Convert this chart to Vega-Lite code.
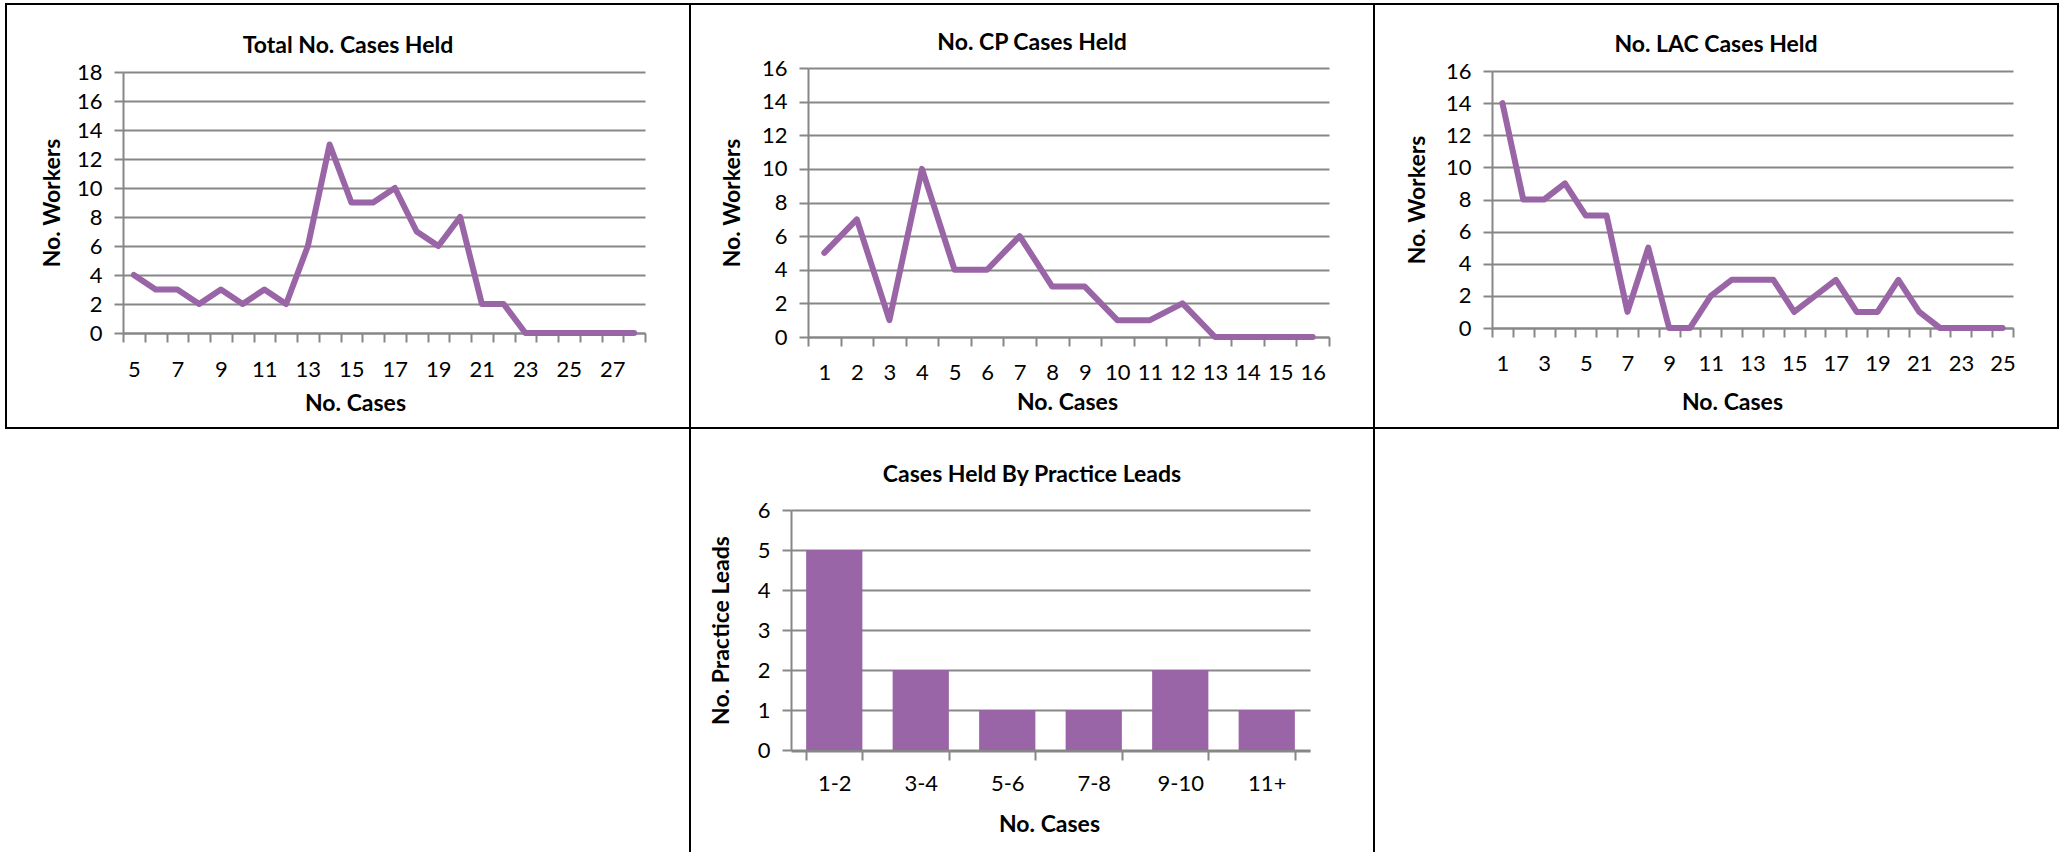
{
  "$schema": "https://vega.github.io/schema/vega-lite/v6.json",
  "padding": {"left": 5, "top": 3, "right": 0, "bottom": 0},
  "background": "white",
  "datasets": {
    "total": [
      {"cases": 5, "workers": 4}, {"cases": 6, "workers": 3}, {"cases": 7, "workers": 3}, {"cases": 8, "workers": 2},
      {"cases": 9, "workers": 3}, {"cases": 10, "workers": 2}, {"cases": 11, "workers": 3}, {"cases": 12, "workers": 2},
      {"cases": 13, "workers": 6}, {"cases": 14, "workers": 13}, {"cases": 15, "workers": 9}, {"cases": 16, "workers": 9},
      {"cases": 17, "workers": 10}, {"cases": 18, "workers": 7}, {"cases": 19, "workers": 6}, {"cases": 20, "workers": 8},
      {"cases": 21, "workers": 2}, {"cases": 22, "workers": 2}, {"cases": 23, "workers": 0}, {"cases": 24, "workers": 0},
      {"cases": 25, "workers": 0}, {"cases": 26, "workers": 0}, {"cases": 27, "workers": 0}, {"cases": 28, "workers": 0}
    ],
    "cp": [
      {"cases": 1, "workers": 5}, {"cases": 2, "workers": 7}, {"cases": 3, "workers": 1}, {"cases": 4, "workers": 10},
      {"cases": 5, "workers": 4}, {"cases": 6, "workers": 4}, {"cases": 7, "workers": 6}, {"cases": 8, "workers": 3},
      {"cases": 9, "workers": 3}, {"cases": 10, "workers": 1}, {"cases": 11, "workers": 1}, {"cases": 12, "workers": 2},
      {"cases": 13, "workers": 0}, {"cases": 14, "workers": 0}, {"cases": 15, "workers": 0}, {"cases": 16, "workers": 0}
    ],
    "lac": [
      {"cases": 1, "workers": 14}, {"cases": 2, "workers": 8}, {"cases": 3, "workers": 8}, {"cases": 4, "workers": 9},
      {"cases": 5, "workers": 7}, {"cases": 6, "workers": 7}, {"cases": 7, "workers": 1}, {"cases": 8, "workers": 5},
      {"cases": 9, "workers": 0}, {"cases": 10, "workers": 0}, {"cases": 11, "workers": 2}, {"cases": 12, "workers": 3},
      {"cases": 13, "workers": 3}, {"cases": 14, "workers": 3}, {"cases": 15, "workers": 1}, {"cases": 16, "workers": 2},
      {"cases": 17, "workers": 3}, {"cases": 18, "workers": 1}, {"cases": 19, "workers": 1}, {"cases": 20, "workers": 3},
      {"cases": 21, "workers": 1}, {"cases": 22, "workers": 0}, {"cases": 23, "workers": 0}, {"cases": 24, "workers": 0},
      {"cases": 25, "workers": 0}
    ],
    "leads": [
      {"range": "1-2", "leads": 5}, {"range": "3-4", "leads": 2}, {"range": "5-6", "leads": 1},
      {"range": "7-8", "leads": 1}, {"range": "9-10", "leads": 2}, {"range": "11+", "leads": 1}
    ]
  },
  "columns": 3,
  "spacing": 0,
  "bounds": "flush",
  "concat": [
    {
      "width": 684, "height": 424,
      "data": {"name": "total"},
      "title": {"text": "Total No. Cases Held", "offset": -54},
      "mark": {"type": "line", "color": "#9A65A6", "strokeWidth": 6, "strokeJoin": "round", "strokeCap": "round"},
      "encoding": {
        "x": {"field": "cases", "type": "ordinal", "bandPosition": 0.5,
          "scale": {"type": "band", "range": [117, 639], "paddingInner": 0, "paddingOuter": 0},
          "axis": {"title": "No. Cases", "offset": -95, "labelPadding": 17, "titleX": 349, "titleY": 70, "titleBaseline": "middle",
            "labelExpr": "datum.value % 2 == 1 ? datum.label : ''"}},
        "y": {"field": "workers", "type": "quantitative",
          "scale": {"domain": [0, 18], "range": [329, 68], "nice": false},
          "axis": {"title": "No. Workers", "offset": -117, "values": [0, 2, 4, 6, 8, 10, 12, 14, 16, 18], "titleX": -71, "titleBaseline": "middle"}}
      }
    },
    {
      "width": 684, "height": 424,
      "data": {"name": "cp"},
      "title": {"text": "No. CP Cases Held", "offset": -51},
      "mark": {"type": "line", "color": "#9A65A6", "strokeWidth": 6, "strokeJoin": "round", "strokeCap": "round"},
      "encoding": {
        "x": {"field": "cases", "type": "ordinal", "bandPosition": 0.5,
          "scale": {"type": "band", "range": [118, 639], "paddingInner": 0, "paddingOuter": 0},
          "axis": {"title": "No. Cases", "offset": -91, "labelPadding": 16, "titleX": 377, "titleY": 65, "titleBaseline": "middle"}},
        "y": {"field": "workers", "type": "quantitative",
          "scale": {"domain": [0, 16], "range": [333, 64], "nice": false},
          "axis": {"title": "No. Workers", "offset": -118, "values": [0, 2, 4, 6, 8, 10, 12, 14, 16], "titleX": -76, "titleBaseline": "middle"}}
      }
    },
    {
      "width": 684, "height": 424,
      "data": {"name": "lac"},
      "title": {"text": "No. LAC Cases Held", "offset": -53},
      "mark": {"type": "line", "color": "#9A65A6", "strokeWidth": 6, "strokeJoin": "round", "strokeCap": "round"},
      "encoding": {
        "x": {"field": "cases", "type": "ordinal", "bandPosition": 0.5,
          "scale": {"type": "band", "range": [118, 639], "paddingInner": 0, "paddingOuter": 0},
          "axis": {"title": "No. Cases", "offset": -100, "labelPadding": 16, "titleX": 358, "titleY": 74, "titleBaseline": "middle",
            "labelExpr": "datum.value % 2 == 1 ? datum.label : ''"}},
        "y": {"field": "workers", "type": "quantitative",
          "scale": {"domain": [0, 16], "range": [324, 67], "nice": false},
          "axis": {"title": "No. Workers", "offset": -118, "values": [0, 2, 4, 6, 8, 10, 12, 14, 16], "titleX": -75, "titleBaseline": "middle"}}
      }
    },
    {
      "width": 684, "height": 427,
      "data": {"values": []},
      "mark": "point"
    },
    {
      "width": 684, "height": 427,
      "data": {"name": "leads"},
      "title": {"text": "Cases Held By Practice Leads", "offset": -59},
      "mark": {"type": "bar", "color": "#9A65A6"},
      "encoding": {
        "x": {"field": "range", "type": "ordinal", "sort": ["1-2", "3-4", "5-6", "7-8", "9-10", "11+"],
          "scale": {"type": "band", "range": [101, 620], "paddingInner": 0.35, "paddingOuter": 0.175},
          "axis": {"title": "No. Cases", "offset": -104, "labelPadding": 13, "titleX": 359, "titleY": 73, "titleBaseline": "middle"}},
        "y": {"field": "leads", "type": "quantitative",
          "scale": {"domain": [0, 6], "range": [322, 82], "nice": false},
          "axis": {"title": "No. Practice Leads", "offset": -101, "values": [0, 1, 2, 3, 4, 5, 6], "titleX": -70, "titleBaseline": "middle"}}
      }
    },
    {
      "width": 684, "height": 427,
      "data": {"values": []},
      "mark": "point"
    }
  ],
  "config": {
    "view": {"stroke": "#000000", "strokeWidth": 2},
    "title": {"font": "Lato", "fontSize": 23, "fontWeight": "bold", "color": "#000000", "anchor": "middle", "frame": "group", "baseline": "middle"},
    "axis": {
      "domainColor": "#878787", "domainWidth": 2,
      "tickColor": "#878787", "tickWidth": 2, "tickSize": 9,
      "gridColor": "#878787", "gridWidth": 2,
      "labelFont": "Lato", "labelFontSize": 22, "labelColor": "#000000",
      "titleFont": "Lato", "titleFontSize": 23, "titleFontWeight": "bold", "titleColor": "#000000",
      "labelOverlap": false
    },
    "axisX": {"grid": false, "labelAngle": 0, "tickBand": "extent"},
    "axisY": {"grid": true, "labelPadding": 12}
  }
}
